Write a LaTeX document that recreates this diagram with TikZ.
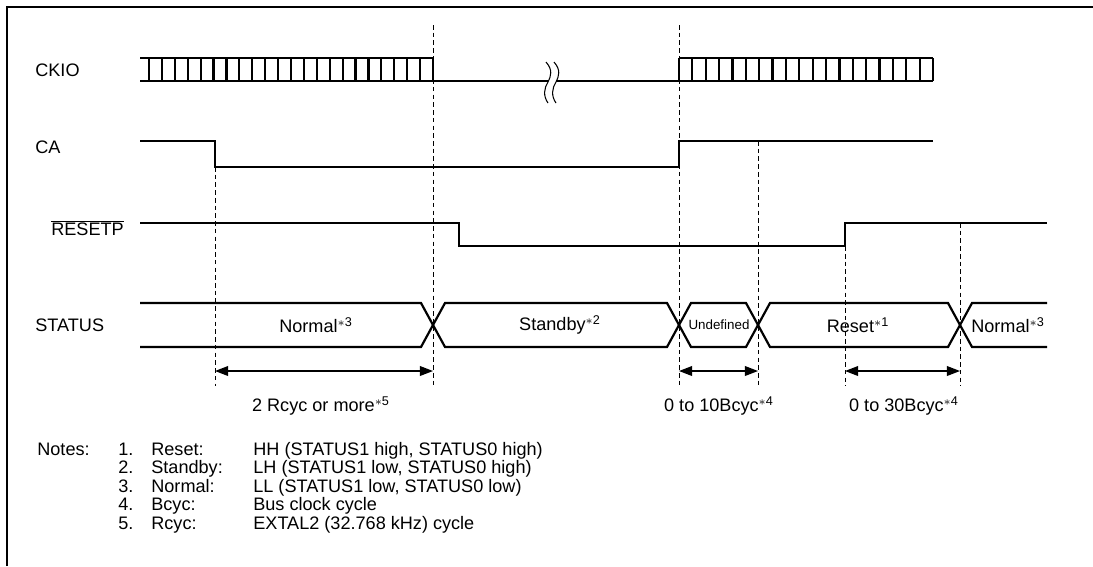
\documentclass[tikz,border=0pt]{standalone}
\usepackage{fontspec}
\setmainfont{Liberation Sans}
\usetikzlibrary{arrows.meta}
\tikzset{
  sig/.style={line width=1.25pt, line join=miter},
  guide/.style={line width=0.55pt, dash pattern=on 2.6pt off 1.8pt},
  dimline/.style={line width=0.7pt, {Triangle[length=7.5pt,width=5.6pt]}-{Triangle[length=7.5pt,width=5.6pt]}},
  lbl/.style={anchor=west, inner sep=0pt},
  txt/.style={inner sep=0pt}
}
\newcommand{\nt}[1]{\textsuperscript{$\ast$#1}}

\begin{document}
\begin{tikzpicture}[x=0.2mm, y=-0.2mm, font=\fontsize{10.3}{12}\selectfont]
  \useasboundingbox (0,0) rectangle (1093,566);
  \draw[line width=1.4pt] (7,566) -- (7,7) -- (1093,7);

  % signal names
  \node[lbl] (ckio) at (35,70) {CKIO};
  \node[lbl] (ca) at (35,147) {CA};
  \node[lbl] (resetp) at (51,228) {$\overline{\mbox{RESETP}}$};
  \node[lbl] (status) at (35,325) {STATUS};

  % guide lines
  \draw[guide] (433,25) -- (433,386);
  \draw[guide] (679,25) -- (679,386);
  \draw[guide] (215,167) -- (215,386);
  \draw[guide] (758,141) -- (758,386);
  \draw[guide] (845,223) -- (845,386);
  \draw[guide] (960,223) -- (960,386);

  % CKIO
  \draw[sig] (140,58) -- (433,58);
  \draw[sig] (140,81) -- (548,81);
  \draw[sig] (556,81) -- (933,81);
  \foreach \i in {0,...,22}
    \draw[sig] ({149+\i*284/22},58) -- ++(0,23);
  \draw[sig] (679,58) -- (933,58);
  \foreach \i in {0,...,19}
    \draw[sig] ({679+\i*254/19},58) -- ++(0,23);
  \foreach \dx in {0,8}
    \draw[line width=0.6pt, xshift=\dx*0.2mm] (546,62) .. controls (553,70) and (551,76) .. (548,82) .. controls (544,88) and (543,96) .. (548,103);

  % CA and RESETP
  \draw[sig] (140,141) -- (215,141) -- (215,167) -- (679,167) -- (679,141) -- (933,141);
  \draw[sig] (140,223) -- (459,223) -- (459,246) -- (845,246) -- (845,223) -- (1047,223);

  % STATUS
  \draw[sig] (140,303) -- (421,303) -- (445,347) -- (667,347) -- (691,303) -- (746,303) -- (770,347) -- (948,347) -- (972,303) -- (1047,303);
  \draw[sig] (140,347) -- (421,347) -- (445,303) -- (667,303) -- (691,347) -- (746,347) -- (770,303) -- (948,303) -- (972,347) -- (1047,347);
  \node[txt] (normal) at (316,325) {Normal\nt3};
  \node[txt] (standby) at (560,325) {Standby\nt2};
  \node[txt] (undef) at (719,325) {\fontsize{7.6}{9}\selectfont Undefined};
  \node[txt] (reset) at (858,325) {Reset\nt1};
  \node[txt] (normal2) at (1008,325) {Normal\nt3};

  % timings
  \coordinate (a1) at (215,371);
  \coordinate (a2) at (433,371);
  \coordinate (b1) at (679,371);
  \coordinate (b2) at (758,371);
  \coordinate (c1) at (845,371);
  \coordinate (c2) at (960,371);
  \draw[dimline] (a1) -- (a2);
  \draw[dimline] (b1) -- (b2);
  \draw[dimline] (c1) -- (c2);
  \node[txt] (rcyc) at (321,406) {2 Rcyc or more\nt5};
  \node[txt] (bcyc10) at (719,406) {0 to 10Bcyc\nt4};
  \node[txt] (bcyc30) at (904,406) {0 to 30Bcyc\nt4};

  % notes
  \node[lbl, anchor=base west] (notes) at (37,455) {Notes:};
  \foreach \n/\k/\d [count=\i from 0] in {1./Reset:/{HH (STATUS1 high, STATUS0 high)},
      2./Standby:/{LH (STATUS1 low, STATUS0 high)},
      3./Normal:/{LL (STATUS1 low, STATUS0 low)},
      4./Bcyc:/{Bus clock cycle},
      5./Rcyc:/{EXTAL2 (32.768 kHz) cycle}} {
    \node[lbl, anchor=base west] (num\i) at (118,455+18.5*\i) {\n};
    \node[lbl, anchor=base west] (key\i) at (151,455+18.5*\i) {\k};
    \node[lbl, anchor=base west] (desc\i) at (253,455+18.5*\i) {\d};
  }
\end{tikzpicture}
\end{document}
